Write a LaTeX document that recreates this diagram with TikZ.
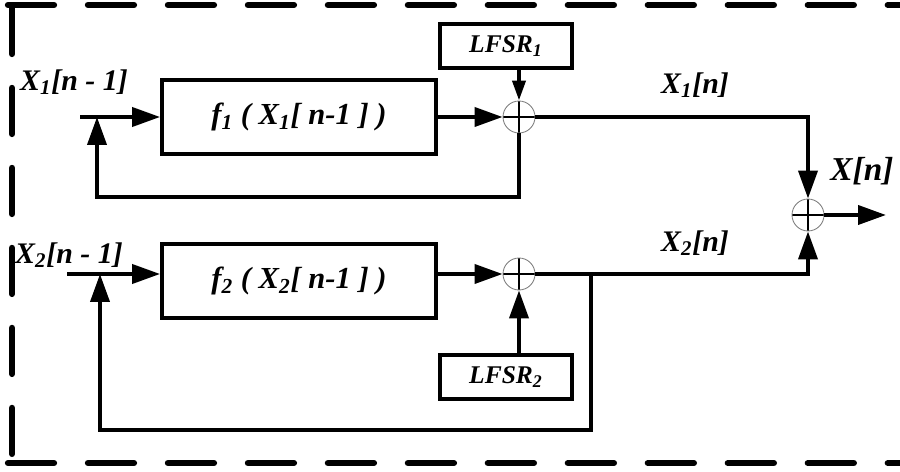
\documentclass[tikz,border=0pt]{standalone}
\usepackage{fontspec}
\setmainfont{Liberation Serif}
\usetikzlibrary{arrows.meta,positioning,calc}
\tikzset{
  blk/.style={draw, line width=2.2pt, minimum width=5.48cm, minimum height=1.48cm,
    font=\fontsize{17.4}{20}\selectfont\bfseries\itshape},
  lfsrbox/.style={draw, line width=2.2pt, minimum width=2.64cm, minimum height=0.88cm,
    font=\fontsize{14.5}{16}\selectfont\bfseries\itshape},
  xorsum/.style={circle, draw=gray, line width=0.5pt, minimum size=0.64cm, inner sep=0pt,
    path picture={\draw[black, line width=0.6pt]
      (path picture bounding box.north) -- (path picture bounding box.south)
      (path picture bounding box.west) -- (path picture bounding box.east);}},
  wire/.style={line width=2.2pt},
  arr/.style={-{Triangle[length=5.6mm, width=3.8mm]}, line width=2.2pt},
  arrs/.style={-{Triangle[length=4mm, width=2.6mm]}, line width=2.2pt},
  lbl/.style={font=\fontsize{17}{19}\selectfont\bfseries\itshape},
  dashframe/.style={line width=3.6pt, dash pattern=on 0.92cm off 0.68cm, line cap=round},
}

\begin{document}
\begin{tikzpicture}[x=0.02cm, y=-0.02cm]
  \useasboundingbox (0,0) rectangle (900,472);
  % dashed frame
  \draw[dashframe] (12,8) -- (12,462);
  \draw[dashframe] (8,5) -- (960,5);
  \draw[dashframe] (8,463) -- (960,463);

  % upper branch
  \node[blk] (f1) at (299,117) {f\textsubscript{1} ( X\textsubscript{1}[ n-1 ] )};
  \node[lfsrbox] (l1) at (506,46) {LFSR\textsubscript{1}};
  \node[xorsum] (x1) at (519,117) {};
  % lower branch
  \node[blk] (f2) at (299,281) {f\textsubscript{2} ( X\textsubscript{2}[ n-1 ] )};
  \node[lfsrbox] (l2) at (506,377) {LFSR\textsubscript{2}};
  \node[xorsum] (x2) at (519,274) {};
  % output sum
  \node[xorsum] (x3) at (808,215) {};

  \coordinate (in1) at (80,117);
  \coordinate (j1) at (97,117);
  \coordinate (fb1) at (97,197);
  \coordinate (in2) at (67,274);
  \coordinate (j2) at (100,274);
  \coordinate (tap2) at (591,274);
  \coordinate (fb2) at (100,430);
  \coordinate (out) at (886,215);

  \draw[arr] (in1) -- (f1.west);
  \draw[arr] (f1.east) -- (x1.west);
  \draw[arrs] (l1.south -| x1) -- (x1.north);
  \draw[arr] (x1.south) |- (fb1) -- (j1);
  \draw[arr] (x1.east) -| (x3.north);

  \draw[arr] (in2) -- (in2 -| f2.west);
  \draw[arr] (x2 -| f2.east) -- (x2.west);
  \draw[arr] (l2.north -| x2) -- (x2.south);
  \draw[arr] (tap2) |- (fb2) -- (j2);
  \draw[arr] (x2.east) -| (x3.south);
  \draw[arr] (x3.east) -- (out);

  % signal labels
  \node[lbl] (lx1in) at (74,82) {X\textsubscript{1}[n - 1]};
  \node[lbl] (lx2in) at (69,255) {X\textsubscript{2}[n - 1]};
  \node[lbl] (lx1) at (695,85) {X\textsubscript{1}[n]};
  \node[lbl] (lx2) at (695,243) {X\textsubscript{2}[n]};
  \node[lbl, font=\fontsize{19}{21}\selectfont\bfseries\itshape] (lx) at (862,171) {X[n]};
\end{tikzpicture}
\end{document}
